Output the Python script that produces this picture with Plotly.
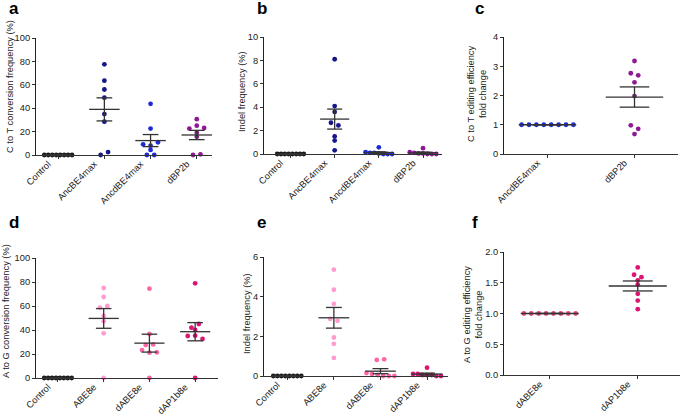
import plotly.graph_objects as go
import numpy as np

W, H = 685, 418

# ---------------- data ----------------
# panel a: C to T conversion frequency (%)
cats_a = ["Control", "AncBE4max", "AncdBE4max", "dBP2b"]
a_control = [0, 0, 0, 0, 0, 0, 0, 0]
a_ancbe4max = [77.5, 63.5, 56, 49, 35, 28.5, 0, 2.5]
a_ancdbe4max = [43.7, 22.6, 9.1, 8.0, 10.9, 4.3, 0, 0]
a_dbp2b = [30.6, 22.6, 25.1, 23.1, 19.1, 15.7, 0, 0.6]
a_yticks = [0, 20, 40, 60, 80, 100]

# panel b: Indel frequency (%)
cats_b = ["Control", "AncBE4max", "AncdBE4max", "dBP2b"]
b_control = [0, 0, 0, 0, 0, 0, 0, 0]
b_ancbe4max = [8.1, 4.1, 3.6, 2.67, 2.44, 1.5, 1.15, 0.31]
b_ancdbe4max = [0.57, 0.15, 0.1, 0.1, 0.05, 0, 0, 0]
b_dbp2b = [0.5, 0.15, 0.1, 0.05, 0.05, 0, 0, 0]
b_yticks = [0, 2, 4, 6, 8, 10]

# panel c: C to T editing efficiency fold change
cats_c = ["AncdBE4max", "dBP2b"]
c_ancdbe4max = [1, 1, 1, 1, 1, 1, 1, 1]
c_dbp2b = [3.18, 2.76, 2.69, 2.45, 1.98, 0.98, 0.86, 0.68]
c_yticks = [0, 1, 2, 3, 4]

# panel d: A to G conversion frequency (%)
cats_d = ["Control", "ABE8e", "dABE8e", "dAP1b8e"]
d_control = [0, 0, 0, 0, 0, 0, 0, 0]
d_abe8e = [75, 67.5, 58.6, 60, 51.7, 47.2, 37.2, 0]
d_dabe8e = [74.4, 36.7, 27.5, 28, 23.3, 21.1, 21.4, 0]
d_dap1b8e = [78.9, 41.9, 45, 40, 35, 35.3, 32.5, 0]
d_yticks = [0, 20, 40, 60, 80, 100]

# panel e: Indel frequency (%)
cats_e = ["Control", "ABE8e", "dABE8e", "dAP1b8e"]
e_control = [0, 0, 0, 0, 0, 0, 0, 0]
e_abe8e = [5.36, 4.35, 3.64, 2.88, 2.78, 1.94, 1.62, 0.91]
e_dabe8e = [0.81, 0.84, 0.15, 0.1, 0.05, 0, 0, 0]
e_dap1b8e = [0.42, 0.1, 0.1, 0.05, 0.05, 0.05, 0, 0]
e_yticks = [0, 2, 4, 6]

# panel f: A to G editing efficiency fold change
cats_f = ["dABE8e", "dAP1b8e"]
f_dabe8e = [1, 1, 1, 1, 1, 1, 1, 1]
f_dap1b8e = [1.75, 1.63, 1.59, 1.54, 1.47, 1.32, 1.21, 1.07]
f_yticks = [0, 0.5, 1.0, 1.5, 2.0]

# ---------------- styles ----------------
C_CTRL = "#1a1a1a"
C_ANC = "#16168c"
C_ANCD = "#1c2ad8"
C_DBP = "#8c1a92"
C_ABE = "#ff9ccd"
C_DABE = "#ff66a6"
C_DAP = "#dc1472"
C_DABE_F = "#e8427f"
LINE = "#333333"
FONT = "Liberation Sans, Arial, sans-serif"
FS = 9.3

panels = [
    dict(cats=cats_a, groups=[a_control, a_ancbe4max, a_ancdbe4max, a_dbp2b],
         colors=[C_CTRL, C_ANC, C_ANCD, C_DBP], yticks=a_yticks, ytext=None,
         px=(36, 212, 38, 155), xr=[-0.48, 3.33]),
    dict(cats=cats_b, groups=[b_control, b_ancbe4max, b_ancdbe4max, b_dbp2b],
         colors=[C_CTRL, C_ANC, C_ANCD, C_DBP], yticks=b_yticks, ytext=None,
         px=(264, 442, 37, 154), xr=[-0.6, 3.43]),
    dict(cats=cats_c, groups=[c_ancdbe4max, c_dbp2b],
         colors=[C_ANCD, C_DBP], yticks=c_yticks, ytext=None,
         px=(504, 678, 37, 154), xr=[-0.5, 1.5]),
    dict(cats=cats_d, groups=[d_control, d_abe8e, d_dabe8e, d_dap1b8e],
         colors=[C_CTRL, C_ABE, C_DABE, C_DAP], yticks=d_yticks, ytext=None,
         px=(36, 218, 258, 378), xr=[-0.48, 3.5]),
    dict(cats=cats_e, groups=[e_control, e_abe8e, e_dabe8e, e_dap1b8e],
         colors=[C_CTRL, C_ABE, C_DABE, C_DAP], yticks=e_yticks, ytext=None,
         px=(264, 448, 257, 376), xr=[-0.5, 3.45]),
    dict(cats=cats_f, groups=[f_dabe8e, f_dap1b8e],
         colors=[C_DABE_F, C_DAP], yticks=f_yticks,
         ytext=["%.1f" % v for v in f_yticks],
         px=(504, 680, 252, 375), xr=[-0.52, 1.48]),
]


def swarm_offsets(vals, px_per_unit, cat_px, sp=7.4, thr=3.8, maxfrac=0.6):
    """Row-based scatter-dot layout: points whose pixel heights are close share a row."""
    vals = np.asarray(vals, dtype=float)
    order = sorted(range(len(vals)), key=lambda i: (-vals[i], i))
    rows, cur, start = [], [], None
    for i in order:
        ypx = vals[i] * px_per_unit
        if cur and abs(start - ypx) < thr:
            cur.append(i)
        else:
            if cur:
                rows.append(cur)
            cur, start = [i], ypx
    if cur:
        rows.append(cur)
    offs = np.zeros(len(vals))
    for r in rows:
        r = sorted(r)
        n = len(r)
        if n == 1:
            continue
        s = min(sp, maxfrac * cat_px / (n - 1))
        for k, i in enumerate(r):
            offs[i] = (k - (n - 1) / 2) * s / cat_px
    return offs


fig = go.Figure()
layout = dict(width=W, height=H, margin=dict(l=0, r=0, t=0, b=0),
              paper_bgcolor="white", plot_bgcolor="white", showlegend=False,
              font=dict(family=FONT, size=FS, color="#222"))

for k, p in enumerate(panels):
    ax = "" if k == 0 else str(k + 1)
    x0, x1, yt, yb = p["px"]
    ymax = p["yticks"][-1]
    px_per_unit = (yb - yt) / ymax
    cat_px = (x1 - x0) / (p["xr"][1] - p["xr"][0])
    lx, ly = [], []
    for gi, (vals, col) in enumerate(zip(p["groups"], p["colors"])):
        v = np.asarray(vals, dtype=float)
        offs = swarm_offsets(v, px_per_unit, cat_px)
        fig.add_trace(go.Scatter(
            x=gi + offs, y=v, mode="markers", xaxis="x" + ax, yaxis="y" + ax,
            marker=dict(size=4.8, color=col, line=dict(width=0)),
            cliponaxis=False, hoverinfo="y"))
        m = v.mean()
        sem = v.std(ddof=1) / np.sqrt(len(v))
        lx += [gi - 0.33, gi + 0.33, None, gi, gi, None,
               gi - 0.17, gi + 0.17, None, gi - 0.17, gi + 0.17, None]
        ly += [m, m, None, m - sem, m + sem, None,
               m + sem, m + sem, None, m - sem, m - sem, None]
    fig.add_trace(go.Scatter(x=lx, y=ly, mode="lines", xaxis="x" + ax, yaxis="y" + ax,
                             line=dict(color=LINE, width=1.3), cliponaxis=False,
                             hoverinfo="skip"))
    layout["xaxis" + ax] = dict(
        domain=[x0 / W, x1 / W], range=p["xr"], anchor="y" + ax,
        tickmode="array", tickvals=list(range(len(p["cats"]))), ticktext=p["cats"],
        tickangle=-45, ticks="outside", ticklen=3, tickcolor="#333",
        ticklabelshift=-10, ticklabelstandoff=-4,
        showline=True, linecolor="#333", linewidth=1, showgrid=False, zeroline=False,
        tickfont=dict(size=FS, color="#222"), automargin=False)
    yax = dict(
        domain=[1 - yb / H, 1 - yt / H], range=[0, ymax], anchor="x" + ax,
        tickmode="array", tickvals=p["yticks"],
        ticks="outside", ticklen=3, tickcolor="#333",
        showline=True, linecolor="#222", linewidth=1, showgrid=False, zeroline=False,
        tickfont=dict(size=FS, color="#222"), automargin=False)
    if p["ytext"]:
        yax["ticktext"] = p["ytext"]
    layout["yaxis" + ax] = yax

annotations = []
titles = [
    ("C to T conversion frequency (%)", 10, 87),
    ("Indel frequency (%)", 242, 92),
    ("C to T editing efficiency<br>fold change", 477, 94),
    ("A to G conversion frequency (%)", 6, 311),
    ("Indel frequency (%)", 247, 314),
    ("A to G editing efficiency<br>fold change", 473, 314),
]
for t, xp, yp in titles:
    annotations.append(dict(text=t, x=xp / W, y=1 - yp / H, xref="paper", yref="paper",
                            xanchor="center", yanchor="middle", textangle=-90,
                            showarrow=False, font=dict(size=FS, color="#222")))
letters = [("a", 7, 9), ("b", 255, 9), ("c", 473, 9),
           ("d", 7, 223), ("e", 255, 223), ("f", 470, 223)]
for t, xp, yp in letters:
    annotations.append(dict(text="<b>%s</b>" % t, x=xp / W, y=1 - yp / H,
                            xref="paper", yref="paper", xanchor="left", yanchor="middle",
                            showarrow=False, font=dict(size=17, color="#000")))
layout["annotations"] = annotations
fig.update_layout(**layout)
fig.write_html("out.html", config={"displayModeBar": False},
               post_script="document.body.style.margin='0';document.body.style.overflow='hidden';")
